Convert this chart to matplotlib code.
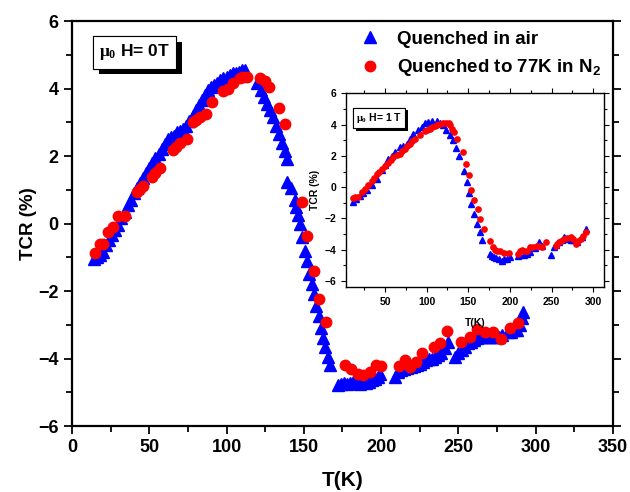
import matplotlib
matplotlib.use("Agg")
import matplotlib.pyplot as plt
from matplotlib import patheffects
from matplotlib.ticker import MultipleLocator

plt.rcParams["font.family"] = ["Liberation Sans", "DejaVu Sans"]
plt.rcParams["font.weight"] = "bold"
plt.rcParams["mathtext.fontset"] = "custom"
plt.rcParams["mathtext.rm"] = "Liberation Serif"
plt.rcParams["mathtext.bf"] = "Liberation Sans:bold"

# main panel, H = 0 T
air_t = [14, 16, 18, 20, 22, 24, 26, 28, 30, 32, 34, 36, 38, 40, 42, 44, 46, 48, 50, 52,
         54, 56, 58, 60, 62, 64, 66, 68, 70, 72, 74, 76, 78, 80, 82, 84, 86, 88, 90, 92,
         94, 96, 98, 100, 102, 104, 106, 108, 110, 112,
         120, 122, 124, 126, 128, 130, 132, 134, 136, 138, 139,
         139, 142, 144, 145, 146, 147.5, 149, 150.5, 152, 153.5, 155, 156.5, 158, 159.5,
         161, 162.5, 164, 165.5, 167,
         172, 174, 176, 178, 180, 182, 184, 186, 188, 190, 192, 194, 196, 198, 199,
         209, 211, 213, 215, 217, 219, 221, 223, 225, 227, 229, 231, 233, 235, 237, 239, 241, 243,
         248, 250, 252, 254, 256, 258, 260, 262, 264, 266, 268, 270, 272, 274, 276, 278,
         282, 284, 286, 288, 290, 291, 292]
air_tcr = [-1.05, -1.0, -0.92, -0.85, -0.65, -0.5, -0.35, -0.2, -0.05, 0.15, 0.35, 0.55, 0.7,
           0.9, 1.05, 1.2, 1.35, 1.5, 1.65, 1.8, 1.95, 2.05, 2.2, 2.35, 2.5, 2.55, 2.6, 2.7,
           2.75, 2.8, 2.9, 3.05, 3.2, 3.35, 3.5, 3.65, 3.8, 3.95, 4.05, 4.1, 4.15, 4.25, 4.3,
           4.35, 4.4, 4.45, 4.45, 4.5, 4.55, 4.55,
           4.15, 3.95, 3.75, 3.55, 3.35, 3.15, 2.9, 2.65, 2.4, 2.15, 1.9,
           1.24, 1.04, 0.7, 0.5, 0.25, 0.0, -0.4, -0.8, -1.1, -1.5, -1.8, -2.1, -2.45, -2.75,
           -3.1, -3.4, -3.65, -3.95, -4.2,
           -4.78, -4.75, -4.72, -4.75, -4.72, -4.7, -4.72, -4.75, -4.7, -4.72, -4.7, -4.65,
           -4.6, -4.55, -4.45,
           -4.55, -4.4, -4.35, -4.3, -4.28, -4.25, -4.22, -4.2, -4.15, -4.1, -4.05, -4.02,
           -4.0, -3.95, -3.9, -3.85, -3.7, -3.5,
           -3.95, -3.85, -3.75, -3.65, -3.55, -3.5, -3.45, -3.4, -3.35, -3.35, -3.35, -3.35,
           -3.35, -3.35, -3.37, -3.3,
           -3.2, -3.2, -3.15, -3.15, -3.0, -2.8, -2.62]

n2_t = [14.9, 18.1, 20, 23.5, 26.7, 29.9, 34.3, 41.8, 44, 46.1, 51.5, 54, 56.9, 65.5, 67.5,
        69.8, 74.1, 78.4, 80.5, 82.7, 86.6, 90.3, 97.8, 101.1, 104.3, 108.6, 110.7, 112.9,
        121.5, 124.8, 127.5, 134, 137.7, 148.5, 152.3, 156.4, 159.9, 164.2, 176.5, 180.8,
        185.1, 188.3, 192.6, 196.5, 200.2, 211.6, 215.3, 218.5, 222.8, 226.7, 234, 238.3,
        242.6, 251.9, 257.3, 262, 267, 272.3, 277.8, 283.1, 288.5]
n2_tcr = [-0.87, -0.61, -0.6, -0.24, -0.09, 0.23, 0.23, 0.94, 1.02, 1.11, 1.39, 1.5, 1.64,
          2.18, 2.28, 2.38, 2.49, 3.02, 3.08, 3.15, 3.24, 3.61, 3.94, 4.0, 4.15, 4.30, 4.35,
          4.35, 4.30, 4.23, 4.03, 3.41, 2.95, 0.65, -0.37, -1.40, -2.23, -2.91, -4.19, -4.32,
          -4.46, -4.49, -4.39, -4.19, -4.22, -4.22, -4.04, -4.24, -4.10, -3.85, -3.67, -3.55,
          -3.18, -3.50, -3.37, -3.13, -3.21, -3.21, -3.43, -3.09, -2.94]

# inset, H = 1 T
in_air_t = [11.1, 15, 20, 24, 28, 34, 40, 46, 50, 54, 58, 62, 68, 72, 76.1, 80, 84.1, 90.1,
            94, 98.2, 102, 106.3, 112.3, 116.3, 120, 123.5, 127.5, 131.6, 135.5, 138.3, 144.3,
            148.4, 150.4, 153.6, 157.2, 160.5, 163.6, 166.5, 175.7, 178, 180.5, 183, 186.5,
            190.6, 193, 196.6, 200.6, 209.4, 212, 216.6, 220, 224.7, 230, 234.7, 238.8, 248.8,
            252.8, 255, 258.8, 262, 264.8, 268, 272.9, 276, 280.9, 286, 291.8]
in_air_tcr = [-0.96, -0.75, -0.55, -0.4, -0.21, 0.11, 0.54, 1.07, 1.4, 1.82, 2.0, 2.24, 2.56,
              2.65, 2.78, 3.1, 3.42, 3.63, 3.85, 4.10, 4.15, 4.21, 4.21, 4.13, 3.95, 3.68,
              3.36, 2.99, 2.52, 1.97, 1.01, 0.32, -0.38, -1.06, -1.71, -2.35, -2.88, -3.35,
              -4.27, -4.4, -4.49, -4.5, -4.59, -4.74, -4.6, -4.59, -4.49, -4.38, -4.35, -4.33,
              -4.25, -4.12, -3.9, -3.53, -3.74, -4.33, -3.85, -3.7, -3.53, -3.35, -3.21, -3.3,
              -3.35, -3.4, -3.53, -3.2, -2.67]

in_n2_t = [11, 14, 17.8, 21.9, 25.9, 29.9, 34, 37, 40, 43, 46, 50, 54, 57, 60, 64, 68, 71,
           74.1, 77, 80.1, 83, 86.1, 92, 98.2, 101, 104.2, 107, 110.2, 113, 116.3, 120.2, 123,
           126.3, 128.3, 130.4, 133.1, 136.4, 143.6, 147.2, 150.4, 153.2, 157.2, 161.7, 164.5,
           168.5, 175.7, 179.8, 182, 184.6, 188.6, 192.5, 198.6, 209.4, 212, 214.7, 217,
           220.7, 224.7, 228, 232.8, 235, 238.8, 242.8, 254.8, 256.5, 258.8, 261, 264.8, 268,
           272.9, 276, 278.9, 282, 284.9, 288, 290.9]
in_n2_tcr = [-0.68, -0.65, -0.60, -0.32, -0.10, 0.11, 0.38, 0.6, 0.86, 1.0, 1.18, 1.35, 1.54,
             1.75, 1.92, 2.05, 2.14, 2.3, 2.46, 2.62, 2.78, 2.95, 3.10, 3.35, 3.59, 3.66,
             3.74, 3.82, 3.89, 3.97, 4.06, 4.13, 4.12, 4.10, 3.95, 3.74, 3.53, 3.10, 2.24,
             1.45, 0.81, -0.21, -0.85, -1.38, -2.06, -2.67, -3.47, -3.85, -4.0, -4.06, -4.10,
             -4.21, -4.21, -4.27, -4.1, -4.01, -4.05, -4.06, -3.85, -3.8, -3.74, -3.75, -3.80,
             -3.53, -3.74, -3.62, -3.53, -3.42, -3.31, -3.25, -3.21, -3.3, -3.63, -3.45, -3.31,
             -3.15, -2.88]

BLUE = "#0000ff"
RED = "#ff0000"


def style_axes(ax, lw, major, minor, labelsize, xminor, yminor, top):
    for s in ax.spines.values():
        s.set_linewidth(lw)
    ax.xaxis.set_minor_locator(MultipleLocator(xminor))
    ax.yaxis.set_minor_locator(MultipleLocator(yminor))
    ax.tick_params(which="both", direction="out", width=lw * 0.8, right=True, top=top,
                   labelsize=labelsize)
    ax.tick_params(which="major", length=major)
    ax.tick_params(which="minor", length=minor)
    for lab in ax.get_xticklabels() + ax.get_yticklabels():
        lab.set_fontweight("bold")


def shadow_box(ax, x, y, txt, size, pad, off):
    t = ax.text(x, y, txt, transform=ax.transAxes, fontsize=size, fontweight="bold",
                va="top", ha="left",
                bbox=dict(boxstyle=f"square,pad={pad}", fc="white", ec="black", lw=0.8))
    t.get_bbox_patch().set_path_effects([
        patheffects.withSimplePatchShadow(offset=(off, -off), shadow_rgbFace="black", alpha=1),
        patheffects.Normal()])
    return t


fig = plt.figure(figsize=(6.3, 4.92), dpi=100)
ax = fig.add_axes([0.1143, 0.1341, 0.8587, 0.8232])
ax.plot(air_t, air_tcr, ls="none", marker="^", ms=8.5, color=BLUE, mec=BLUE,
        label="Quenched in air")
ax.plot(n2_t, n2_tcr, ls="none", marker="o", ms=7.5, color=RED, mec=RED,
        label=r"Quenched to 77K in N$_\mathbf{2}$")
ax.set_xlim(0, 350)
ax.set_ylim(-6, 6)
ax.set_xticks(range(0, 351, 50))
ax.set_yticks(range(-6, 7, 2))
style_axes(ax, 1.6, 6, 4, 13, 25, 1, False)
ax.set_xlabel("T(K)", fontsize=15, fontweight="bold", labelpad=11)
ax.set_ylabel("TCR (%)", fontsize=13.5, fontweight="bold", labelpad=1)
ax.legend(loc="upper left", bbox_to_anchor=(0.527, 0.985), frameon=False,
          handlelength=1.0, handletextpad=0.95, labelspacing=0.5, borderaxespad=0,
          borderpad=0.2, prop={"weight": "bold", "size": 13.5})
shadow_box(ax, 0.05, 0.947, r"$\mathrm{\mu_0}$ H= 0T", 12.5, 0.35, 4)

ins = fig.add_axes([0.549, 0.416, 0.4097, 0.3944])
ins.plot(in_air_t, in_air_tcr, ls="none", marker="^", ms=4.3, color=BLUE, mec=BLUE)
ins.plot(in_n2_t, in_n2_tcr, ls="none", marker="o", ms=3.8, color=RED, mec=RED)
ins.set_xlim(3, 313)
ins.set_ylim(-6.4, 6)
ins.set_xticks(range(50, 301, 50))
ins.set_yticks(range(-6, 7, 2))
style_axes(ins, 1.0, 3.5, 2, 7.5, 25, 1, True)
ins.set_xlabel("T(K)", fontsize=7.5, fontweight="bold", labelpad=8)
ins.set_ylabel("TCR (%)", fontsize=7.5, fontweight="bold", labelpad=3)
shadow_box(ins, 0.04, 0.91, r"$\mathrm{\mu_0}$ H= 1 T", 7.5, 0.3, 2)

fig.savefig("out.png", dpi=100)
